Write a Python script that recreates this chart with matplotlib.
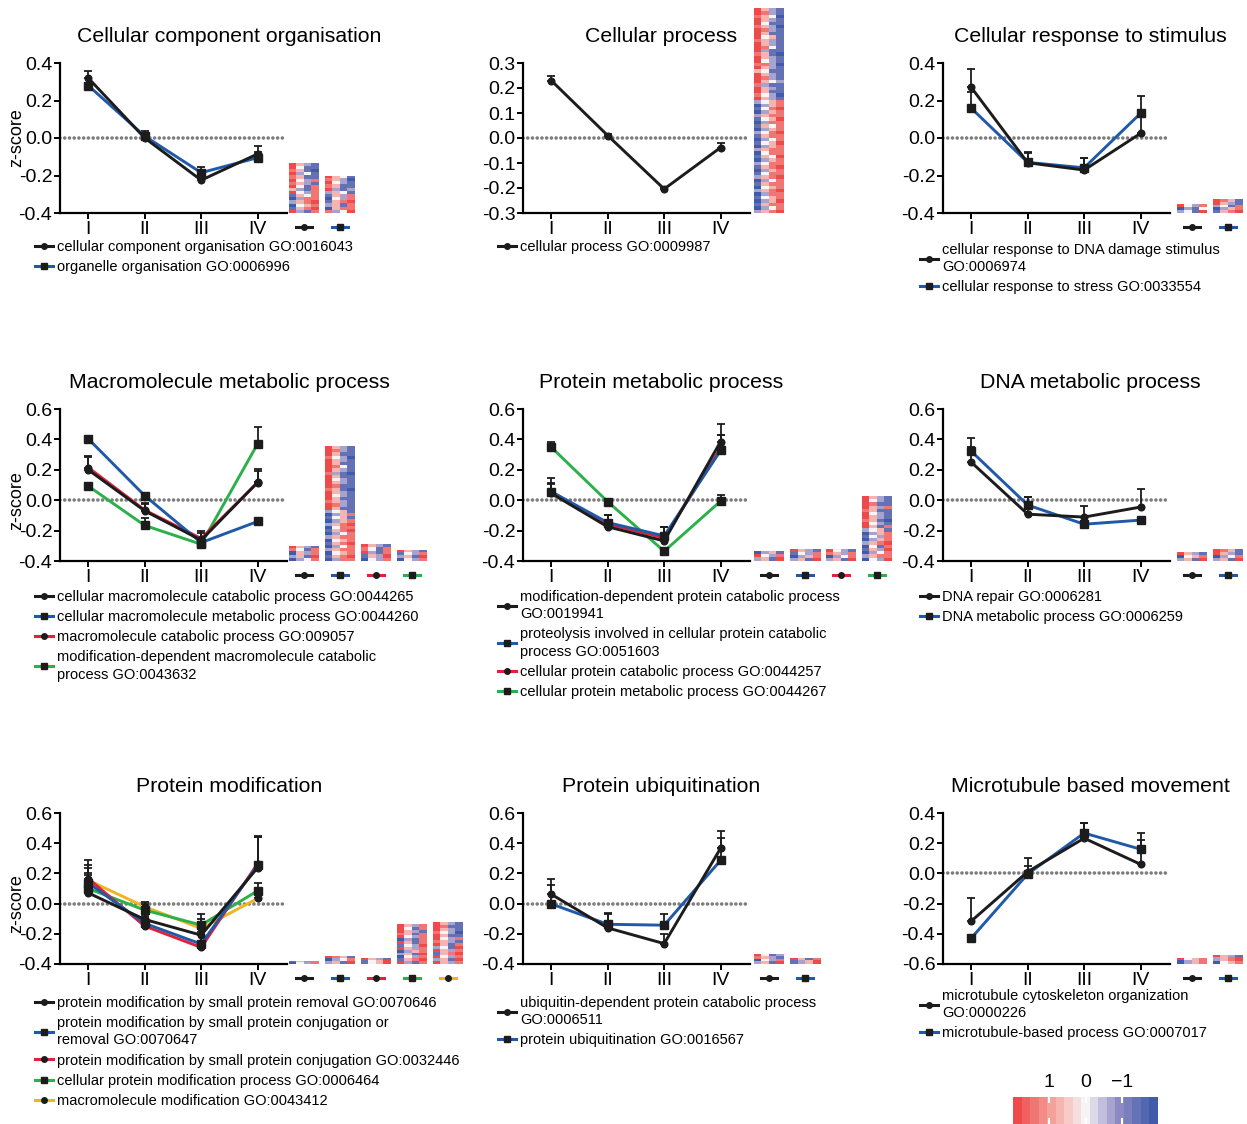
import numpy as np
import matplotlib
matplotlib.use("Agg")
import matplotlib.pyplot as plt
from matplotlib.lines import Line2D
from matplotlib.colors import LinearSegmentedColormap, Normalize
from matplotlib.cm import ScalarMappable
from matplotlib.transforms import blended_transform_factory

plt.rcParams['font.family'] = ['Liberation Sans', 'DejaVu Sans']
plt.rcParams['axes.unicode_minus'] = False

stages = ['I', 'II', 'III', 'IV']
BLACK, BLUE, RED, GREEN, YELLOW = '#1c1c1c', '#2059a8', '#e3203c', '#2bb04b', '#f0b322'

# heatmap cells: R strong up ... B strong down
heat_key = {'R': 2.0, 'r': 1.3, 'p': 0.6, 'w': 0.0, 'l': -0.6, 'b': -1.3, 'B': -2.0}

# ---- Cellular component organisation
cco_names = ['cellular component organisation GO:0016043',
             'organelle organisation GO:0006996']
cco_colors = [BLACK, BLUE]
cco_means = [[0.32, 0.00, -0.225, -0.085],
             [0.28, 0.01, -0.185, -0.105]]
cco_errs = [[0.035, 0.02, 0.015, 0.045],
            [0.015, 0.03, 0.03, 0.03]]
cco_heat = [["Rplb", "Rwbb", "rpbB", "Rlwb", "rpbb", "Rwlr", "rplb", "Rwbr",
             "plbr", "Rwlr", "bpwr", "Blrr", "lprR", "Bwpr", "bprR", "Rlbr"],
            ["Rpwb", "rplB", "Rwlb", "rpbb", "Rlbl", "lpwb", "bplr", "Bwlr",
             "bprR", "lpbr", "Bprr", "rlwR"]]

# ---- Cellular process
cp_names = ['cellular process GO:0009987']
cp_colors = [BLACK]
cp_means = [[0.23, 0.01, -0.204, -0.038]]
cp_errs = [[0.02, 0.008, 0.006, 0.02]]
cp_heat = [["Rplb", "Rrlb", "rpwB", "Rplb", "Rwbb", "rplB", "Rrlb", "Rpbb", "Rwpb", "rplb",
            "Rplb", "Rrwb", "Rlbb", "rpbB", "Rplb", "Rwlb", "rrlB", "Rplb", "pwbb", "Rplb",
            "Rrlb", "Rpwl", "rlbb", "Rplb", "Rpbb", "rwlB", "Rplb",
            "lwpr", "Blpr", "bwrR", "Blpr", "lprr", "bwpR", "Blrr", "bpwr", "Blpr", "lwrR",
            "bprr", "Blwr", "bwpR", "Blpr", "lprr", "Bwrr", "bpwR", "Blpr", "lwrr", "bprR",
            "Blpr", "bwrr", "lprR", "Blwr", "bprr", "Bwpr", "lprR", "Blrr", "bwpr", "BlpR",
            "bprr", "Blwr", "lprR"]]

# ---- Cellular response to stimulus
crs_names = ['cellular response to DNA damage stimulus\nGO:0006974',
             'cellular response to stress GO:0033554']
crs_colors = [BLACK, BLUE]
crs_means = [[0.27, -0.132, -0.171, 0.025],
             [0.159, -0.13, -0.159, 0.132]]
crs_errs = [[0.10, 0.06, 0.067, 0.10],
            [0.084, 0.05, 0.05, 0.09]]
crs_heat = [["Rwlr", "Blbw", "lwbR"],
            ["Rrpb", "Rplb", "lwbr", "Blpr", "bprR"]]

# ---- Macromolecule metabolic process
mmp_names = ['cellular macromolecule catabolic process GO:0044265',
             'cellular macromolecule metabolic process GO:0044260',
             'macromolecule catabolic process GO:009057',
             'modification-dependent macromolecule catabolic\nprocess GO:0043632']
mmp_colors = [BLACK, BLUE, RED, GREEN]
mmp_means = [[0.20, -0.07, -0.263, 0.118],
             [0.404, 0.03, -0.279, -0.14],
             [0.215, -0.065, -0.252, 0.115],
             [0.093, -0.166, -0.29, 0.371]]
mmp_errs = [[0.09, 0.05, 0.05, 0.09],
            [0.02, 0.01, 0.03, 0.025],
            [0.07, 0.04, 0.05, 0.08],
            [0.02, 0.05, 0.02, 0.11]]
mmp_heat = [["Rplb", "rwbr", "Bplr", "lpbR", "Blwr"],
            ["Rplb", "Rrlb", "Rpbb", "rwlB", "Rplb", "Rpbb", "Rrwb", "Rplb", "rlbB", "Rpbb",
             "Rwlb", "Rplb", "Rrbb", "rpbB", "Rplb", "Rwlb", "Rpbb", "rplb", "Rrlb", "Rpbb",
             "lwpb", "Blpr", "bwpb", "Blpr", "lprR", "Bwrr", "bprR", "Blwr", "lprr", "Bwpr",
             "bprR", "Blwr", "lprr", "Bwpr", "bprR", "Blrr"],
            ["Rplb", "rwbr", "Rlbr", "bplR", "Bwlr"],
            ["Rplb", "bwlr", "lpbR", "Bwlr"]]

# ---- Protein metabolic process
pmp_names = ['modification-dependent protein catabolic process\nGO:0019941',
             'proteolysis involved in cellular protein catabolic\nprocess GO:0051603',
             'cellular protein catabolic process GO:0044257',
             'cellular protein metabolic process GO:0044267']
pmp_colors = [BLACK, BLUE, RED, GREEN]
pmp_means = [[0.045, -0.175, -0.268, 0.386],
             [0.056, -0.147, -0.235, 0.327],
             [0.056, -0.158, -0.248, 0.342],
             [0.349, -0.01, -0.336, -0.006]]
pmp_errs = [[0.10, 0.08, 0.09, 0.115],
            [0.05, 0.05, 0.06, 0.10],
            [0.06, 0.06, 0.07, 0.09],
            [0.035, 0.01, 0.02, 0.04]]
pmp_heat = [["Blpb", "Rwlr", "lpbR"],
            ["Rplb", "bwlr", "Blpr", "lpbR"],
            ["Rwlb", "rplr", "Blwr", "lpbR"],
            ["Rplb", "Rwlb", "Rrbb", "Rplr", "rpbb", "Rwlb", "Rplb", "rpbB", "Rwlb", "Rpbr",
             "lwpb", "Blpr", "bwlr", "Blpr", "lprR", "Bwbr", "bplR", "Blwr", "lprr", "BwlR"]]

# ---- DNA metabolic process
dna_names = ['DNA repair GO:0006281', 'DNA metabolic process GO:0006259']
dna_colors = [BLACK, BLUE]
dna_means = [[0.25, -0.092, -0.111, -0.045],
             [0.322, -0.032, -0.158, -0.131]]
dna_errs = [[0.10, 0.11, 0.07, 0.12],
            [0.085, 0.05, 0.02, 0.02]]
dna_heat = [["Rplb", "Bwpr", "lpbR"],
            ["Rrpb", "Rplb", "Blwr", "lpbR"]]

# ---- Protein modification
pm_names = ['protein modification by small protein removal GO:0070646',
            'protein modification by small protein conjugation or\nremoval GO:0070647',
            'protein modification by small protein conjugation GO:0032446',
            'cellular protein modification process GO:0006464',
            'macromolecule modification GO:0043412']
pm_colors = [BLACK, BLUE, RED, GREEN, YELLOW]
pm_means = [[0.071, -0.105, -0.209, 0.238],
            [0.137, -0.131, -0.268, 0.254],
            [0.166, -0.149, -0.29, 0.265],
            [0.10, -0.043, -0.142, 0.085],
            [0.155, -0.021, -0.164, 0.034]]
pm_errs = [[0.12, 0.05, 0.08, 0.20],
           [0.12, 0.05, 0.10, 0.19],
           [0.12, 0.05, 0.10, 0.18],
           [0.10, 0.04, 0.07, 0.05],
           [0.08, 0.03, 0.06, 0.04]]
pm_heat = [["bprr", "Bwlr"],
           ["Rrpb", "Blwr", "lpbR"],
           ["Rplb", "bwpR"],
           ["Rplr", "Rwbr", "Rplb", "rpbr", "Rwlr", "Blbr", "Rpbr", "bwlR", "Rplr", "Blpr",
            "lpbR", "Bwlr", "bprR", "Rlbr"],
           ["Rplb", "Rrbb", "Rplb", "rwlB", "Rpbb", "Rwlr", "rplb", "Rpbr", "lwbR", "Rplr",
            "bprR", "Rwlr", "lpbR", "Rplr"]]

# ---- Protein ubiquitination
pu_names = ['ubiquitin-dependent protein catabolic process\nGO:0006511',
            'protein ubiquitination GO:0016567']
pu_colors = [BLACK, BLUE]
pu_means = [[0.062, -0.161, -0.265, 0.367],
            [-0.002, -0.137, -0.143, 0.287]]
pu_errs = [[0.10, 0.10, 0.065, 0.115],
           [0.125, 0.07, 0.075, 0.145]]
pu_heat = [["Rwbl", "rplb", "Bwlr", "lpbR"],
           ["Rpbr", "blpR"]]

# ---- Microtubule based movement
mt_names = ['microtubule cytoskeleton organization\nGO:0000226',
            'microtubule-based process GO:0007017']
mt_colors = [BLACK, BLUE]
mt_means = [[-0.316, 0.011, 0.233, 0.06],
            [-0.429, -0.004, 0.267, 0.16]]
mt_errs = [[0.15, 0.09, 0.10, 0.16],
           [0.02, 0.05, 0.066, 0.11]]
mt_heat = [["Rwpr", "Blpr"],
           ["Rplb", "lprR", "Bwpr"]]

panels = [
    ('Cellular component organisation', cco_names, cco_colors, cco_means, cco_errs, cco_heat, (-0.4, 0.4, 0.2)),
    ('Cellular process', cp_names, cp_colors, cp_means, cp_errs, cp_heat, (-0.3, 0.3, 0.1)),
    ('Cellular response to stimulus', crs_names, crs_colors, crs_means, crs_errs, crs_heat, (-0.4, 0.4, 0.2)),
    ('Macromolecule metabolic process', mmp_names, mmp_colors, mmp_means, mmp_errs, mmp_heat, (-0.4, 0.6, 0.2)),
    ('Protein metabolic process', pmp_names, pmp_colors, pmp_means, pmp_errs, pmp_heat, (-0.4, 0.6, 0.2)),
    ('DNA metabolic process', dna_names, dna_colors, dna_means, dna_errs, dna_heat, (-0.4, 0.6, 0.2)),
    ('Protein modification', pm_names, pm_colors, pm_means, pm_errs, pm_heat, (-0.4, 0.6, 0.2)),
    ('Protein ubiquitination', pu_names, pu_colors, pu_means, pu_errs, pu_heat, (-0.4, 0.6, 0.2)),
    ('Microtubule based movement', mt_names, mt_colors, mt_means, mt_errs, mt_heat, (-0.6, 0.4, 0.2)),
]

# layout in pixels
W, H = 1247, 1124
col_left = [60, 523, 943]
ax_w = 227
row_top = [63, 409, 813]
row_bottom = [213, 561, 964]
title_x = [229, 661, 1090]
legend_x = [35, 498, 920]
legend_top = [[240, 240, 243], [590, 590, 590], [996, 996, 989]]
heat_x0 = [289, 754, 1177]
heat_step, heat_w = 36, 30
heat_tops = [[163, 176], [8], [204, 199],
             [546, 446, 544, 550], [551, 549, 549, 496], [552, 549],
             [961, 956, 958, 924, 922], [954, 958], [958, 955]]

cmap = LinearSegmentedColormap.from_list(
    'rwb', ['#3f5ba9', '#8c89c3', '#f7f4f6', '#f4a19a', '#ee4a4c'], N=17)
norm = Normalize(-2, 2)


def fx(px):
    return px / W


def fy(py):
    return 1 - py / H


fig = plt.figure(figsize=(W / 100, H / 100), dpi=100)
x = np.arange(1, 5)

for i, (title, names, colors, means, errs, heat, (ylo, yhi, ystep)) in enumerate(panels):
    r, c = divmod(i, 3)
    L, T, B = col_left[c], row_top[r], row_bottom[r]
    ax = fig.add_axes([fx(L), fy(B), ax_w / W, (B - T) / H])
    ax.axhline(0, color='#7d7d7d', lw=2.6, ls=(0, (0.01, 1.3)),
               dash_capstyle='round', zorder=1)
    handles = []
    n = len(names)
    for k in reversed(range(n)):
        mk = 'o' if k % 2 == 0 else 's'
        ms = 4.8 if mk == 'o' else 5.2
        ax.errorbar(x, means[k], yerr=[np.zeros(4), errs[k]], color=colors[k],
                    ecolor=BLACK, mfc=BLACK, mec=BLACK,
                    lw=2.1, marker=mk, ms=ms, capsize=3, elinewidth=1.3,
                    capthick=1.3, zorder=3 + (n - k), clip_on=False)
    for k in range(n):
        mk = 'o' if k % 2 == 0 else 's'
        handles.append(Line2D([], [], color=colors[k], lw=2.2, marker=mk,
                              ms=4 if mk == 'o' else 4.5, mfc=BLACK, mec=BLACK))
    ax.set_xlim(0.5, 4.52)
    ax.set_ylim(ylo, yhi)
    ax.set_yticks(np.round(np.arange(ylo, yhi + ystep / 2, ystep), 2))
    ax.yaxis.set_major_formatter(matplotlib.ticker.FormatStrFormatter('%.1f'))
    ax.set_xticks(x)
    ax.set_xticklabels(stages)
    for s in ['top', 'right']:
        ax.spines[s].set_visible(False)
    for s in ['left', 'bottom']:
        ax.spines[s].set_linewidth(1.6)
    ax.tick_params(axis='both', length=4, width=1.4, direction='out', pad=1.5)
    ax.tick_params(axis='y', labelsize=14)
    ax.tick_params(axis='x', labelsize=14)
    if c == 0:
        ax.text((17 - L) / ax_w, 0, 'z-score', fontsize=13, rotation=90,
                ha='center', va='center',
                transform=blended_transform_factory(ax.transAxes, ax.transData))
    fig.text(fx(title_x[c]), fy(T - 27), title, ha='center', va='center', fontsize=15.3)
    leg = ax.legend(handles=handles, labels=names, loc='upper left',
                    bbox_to_anchor=(fx(legend_x[c]), fy(legend_top[r][c])),
                    bbox_transform=fig.transFigure, frameon=False, fontsize=10.5,
                    handlelength=1.2, handletextpad=0.3, labelspacing=0.42,
                    borderpad=0, borderaxespad=0)
    for t in leg.get_texts():
        t.set_linespacing(1.3)

    # heatmaps of gene profiles + small key under each (only when several sets)
    for k, rows in enumerate(heat):
        hx = heat_x0[c] + k * heat_step
        top = heat_tops[i][k]
        hax = fig.add_axes([fx(hx), fy(B), heat_w / W, (B - top) / H])
        data = np.array([[heat_key[ch] for ch in row] for row in rows])
        hax.imshow(data, aspect='auto', cmap=cmap, norm=norm, interpolation='nearest')
        hax.axis('off')
        if len(heat) < 2:
            continue
        mk = 'o' if k % 2 == 0 else 's'
        cx, cy = hx + heat_w / 2, B + 14
        fig.add_artist(Line2D([fx(cx - 8), fx(cx), fx(cx + 8)], [fy(cy)] * 3,
                              transform=fig.transFigure, color=colors[k], lw=2.2,
                              marker=mk, markevery=[1], ms=4 if mk == 'o' else 4.5,
                              mfc=BLACK, mec=BLACK))

# colour key
cax = fig.add_axes([fx(1013), fy(1124), 145 / W, 27 / H])
cb = fig.colorbar(ScalarMappable(norm=norm, cmap=cmap), cax=cax,
                  orientation='horizontal', ticks=[1, 0, -1])
cb.outline.set_visible(False)
cax.invert_xaxis()
cax.set_xticklabels(['1', '0', '\u22121'])
cax.tick_params(axis='x', top=True, bottom=True, labeltop=True, labelbottom=False,
                direction='in', color='white', length=4, width=1.5, labelsize=14, pad=4)

fig.savefig('out.png', dpi=100)
